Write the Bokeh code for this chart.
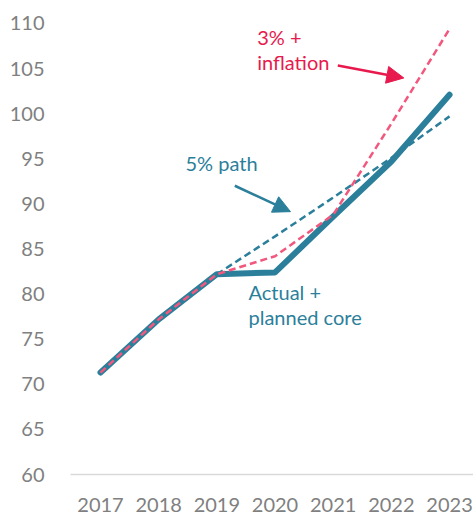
from bokeh.plotting import figure
from bokeh.models import Range1d, FixedTicker, Label, Arrow, NormalHead
from bokeh.embed import file_html
from bokeh.resources import INLINE

# Core spending index by year
years = [2017, 2018, 2019, 2020, 2021, 2022, 2023]
actual_planned = [71.3, 77.2, 82.2, 82.4, 88.6, 94.7, 102.1]
three_pct_infl = [71.3, 77.2, 82.2, 84.2, 88.8, 98.9, 109.4]

path_years = [2019, 2020, 2021, 2022, 2023]
five_pct_path = [82.2, 86.4, 90.7, 95.1, 99.7]

y_ticks = [60, 65, 70, 75, 80, 85, 90, 95, 100, 105, 110]

TEAL = "#2b7f9b"
PINK = "#f2587d"
RED = "#e8194d"
GREY = "#808080"
FONT = "Lato"

p = figure(width=473, height=515, output_backend="svg", toolbar_location=None,
           x_range=Range1d(2016.484, 2023.412), y_range=Range1d(60, 111.66),
           min_border_left=70, min_border_right=0, min_border_top=8,
           min_border_bottom=41)
p.outline_line_color = None
p.background_fill_color = "white"
p.border_fill_color = "white"
p.xgrid.grid_line_color = None
p.ygrid.grid_line_color = None

# x axis: light baseline with year labels
p.xaxis.ticker = FixedTicker(ticks=years)
p.xaxis.axis_line_color = "#d9d9d9"
p.xaxis.axis_line_width = 1.5
p.xaxis.major_tick_line_color = None
p.xaxis.minor_tick_line_color = None
p.xaxis.major_label_standoff = 17
p.xaxis.major_label_text_font = FONT
p.xaxis.major_label_text_font_size = "20px"
p.xaxis.major_label_text_color = GREY

# y axis: labels only
p.yaxis.ticker = FixedTicker(ticks=y_ticks)
p.yaxis.axis_line_color = None
p.yaxis.major_tick_line_color = None
p.yaxis.minor_tick_line_color = None
p.yaxis.major_label_standoff = 20
p.yaxis.major_label_text_font = FONT
p.yaxis.major_label_text_font_size = "20px"
p.yaxis.major_label_text_color = GREY

# series
p.line(years, actual_planned, line_color=TEAL, line_width=6,
       line_cap="round", line_join="round")
p.line(path_years, five_pct_path, line_color=TEAL, line_width=2.5,
       line_dash="7 4")
p.line(years, three_pct_infl, line_color=PINK, line_width=2.5,
       line_dash="7 4")

# annotations
def add_label(x, y, text, color):
    p.add_layout(Label(x=x, y=y, text=text, text_color=color,
                       text_font=FONT, text_font_size="20px",
                       text_baseline="alphabetic", text_align="left"))

add_label(2019.694, 108.46, "3% +", RED)
add_label(2019.694, 105.70, "inflation", RED)
add_label(2018.461, 94.48, "5% path", TEAL)
add_label(2019.544, 80.22, "Actual +", TEAL)
add_label(2019.544, 77.46, "planned core", TEAL)

p.add_layout(Arrow(end=NormalHead(size=17, fill_color=RED, line_color=RED),
                   x_start=2021.079, y_start=105.33,
                   x_end=2022.214, y_end=103.96,
                   line_color=RED, line_width=2.5))
p.add_layout(Arrow(end=NormalHead(size=17, fill_color=TEAL, line_color=TEAL),
                   x_start=2019.309, y_start=92.01,
                   x_end=2020.266, y_end=89.14,
                   line_color=TEAL, line_width=2.5))

open("out.html", "w").write(file_html(p, INLINE))
